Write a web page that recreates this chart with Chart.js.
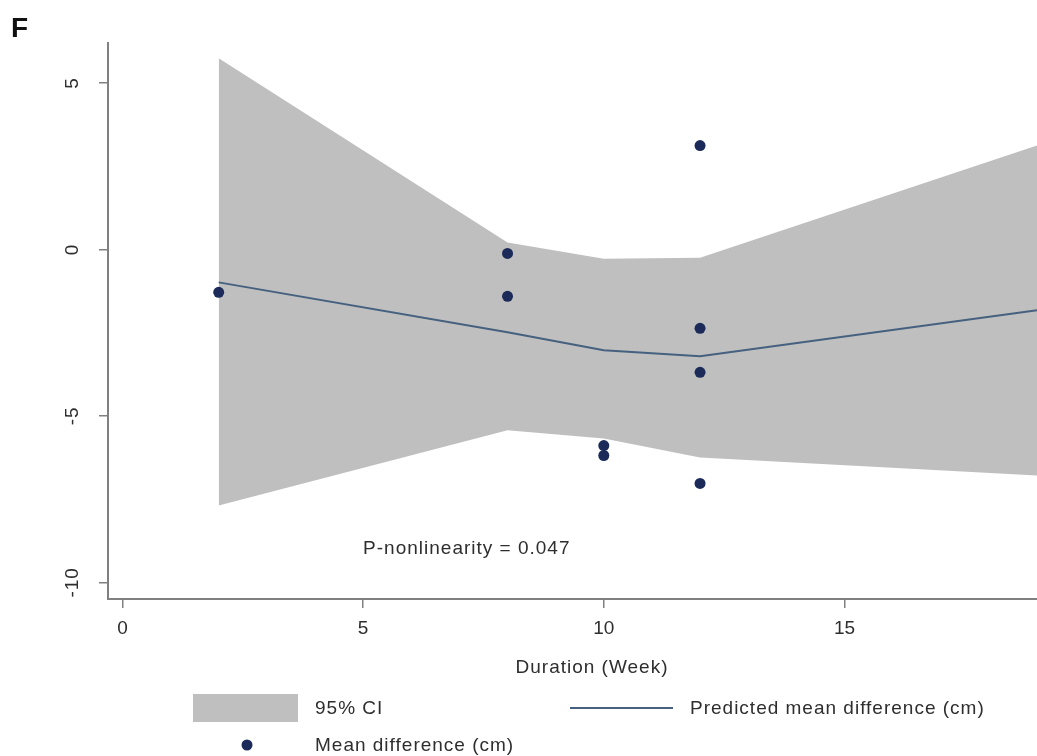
<!DOCTYPE html>
<html>
<head>
<meta charset="utf-8">
<script src="https://cdn.jsdelivr.net/npm/chart.js@4.4.1/dist/chart.umd.min.js"></script>
<style>
  html, body { margin: 0; padding: 0; background: #fff; }
  #kutu { width: 1037px; height: 756px; position: relative; }
</style>
</head>
<body>
<div id="kutu"><canvas id="grafik" width="1037" height="756"></canvas></div>
<script>
// Fitted curve and 95% CI at each duration
const fitX = [2, 8, 10, 12, 19];
const fitY = [-0.99, -2.49, -3.03, -3.21, -1.83];
const ciUst = [5.74, 0.21, -0.28, -0.25, 3.12];
const ciAlt = [-7.69, -5.43, -5.68, -6.25, -6.79];

// Study-level mean differences
const noktaX = [2, 8, 8, 10, 10, 12, 12, 12, 12];
const noktaY = [-1.29, -0.12, -1.41, -5.89, -6.19, 3.12, -2.37, -3.69, -7.03];

// Axis ticks
const xTicks = [0, 5, 10, 15];
const yTicks = [-10, -5, 0, 5];

const FONT = '"Liberation Sans", Arial, sans-serif';
const yaziRengi = '#2e2e2e';
const eksenRengi = '#808080';
const bantRengi = '#bfbfbf';
const cizgiRengi = '#45617f';
const noktaRengi = '#1b2a59';

const ciftle = (xs, ys) => xs.map((x, i) => ({ x: x, y: ys[i] }));

// Texts that are not drawn by Chart.js itself: y labels, titles, legend
const yaziEklentisi = {
    id: 'yazilar',
    afterDraw(chart) {
        const ctx = chart.ctx;
        const xs = chart.scales.x;
        const ys = chart.scales.y;
        ctx.save();
        ctx.fillStyle = yaziRengi;
        ctx.font = '19px ' + FONT;
        ctx.letterSpacing = '1px';

        // rotated y tick labels
        yTicks.forEach(v => {
            ctx.save();
            ctx.translate(73, ys.getPixelForValue(v));
            ctx.rotate(-Math.PI / 2);
            ctx.textAlign = 'center';
            ctx.textBaseline = 'middle';
            ctx.fillText(String(v), 0, 0);
            ctx.restore();
        });

        // annotation
        ctx.textAlign = 'left';
        ctx.textBaseline = 'middle';
        ctx.fillText('P-nonlinearity = 0.047', xs.getPixelForValue(5), ys.getPixelForValue(-9));

        // x axis title
        ctx.textAlign = 'center';
        ctx.fillText('Duration (Week)', 592, 668);

        // legend
        ctx.textAlign = 'left';
        ctx.fillStyle = bantRengi;
        ctx.fillRect(193, 694, 105, 28);
        ctx.fillStyle = yaziRengi;
        ctx.fillText('95% CI', 315, 709);

        ctx.strokeStyle = cizgiRengi;
        ctx.lineWidth = 2;
        ctx.beginPath();
        ctx.moveTo(570, 708);
        ctx.lineTo(673, 708);
        ctx.stroke();
        ctx.fillText('Predicted mean difference (cm)', 690, 709);

        ctx.fillStyle = noktaRengi;
        ctx.beginPath();
        ctx.arc(247, 745, 5.5, 0, Math.PI * 2);
        ctx.fill();
        ctx.fillStyle = yaziRengi;
        ctx.fillText('Mean difference (cm)', 315, 746);

        // panel letter
        ctx.letterSpacing = '0px';
        ctx.fillStyle = '#111';
        ctx.font = 'bold 28px ' + FONT;
        ctx.textBaseline = 'alphabetic';
        ctx.fillText('F', 11, 37);
        ctx.restore();
    }
};

const ctx = document.getElementById('grafik').getContext('2d');
new Chart(ctx, {
    type: 'line',
    data: {
        datasets: [
            {
                label: '95% CI',
                data: ciftle(fitX, ciUst),
                borderWidth: 0,
                pointRadius: 0,
                backgroundColor: bantRengi,
                fill: '+1',
                order: 3
            },
            {
                label: 'CI alt',
                data: ciftle(fitX, ciAlt),
                borderWidth: 0,
                pointRadius: 0,
                fill: false,
                order: 4
            },
            {
                label: 'Predicted mean difference (cm)',
                data: ciftle(fitX, fitY),
                borderColor: cizgiRengi,
                borderWidth: 2,
                pointRadius: 0,
                fill: false,
                tension: 0,
                order: 1
            },
            {
                type: 'scatter',
                label: 'Mean difference (cm)',
                data: ciftle(noktaX, noktaY),
                backgroundColor: noktaRengi,
                borderWidth: 0,
                pointRadius: 5.5,
                order: 0
            }
        ]
    },
    options: {
        responsive: false,
        animation: false,
        layout: { autoPadding: false, padding: { top: 43, left: 0, right: 0, bottom: 0 } },
        plugins: {
            legend: { display: false },
            tooltip: { enabled: false }
        },
        scales: {
            x: {
                type: 'linear',
                min: -0.3,
                max: 19,
                afterBuildTicks: s => { s.ticks = xTicks.map(v => ({ value: v })); },
                afterFit: s => { s.height = 157; s.paddingLeft = 0; s.paddingRight = 0; },
                grid: { drawOnChartArea: false, drawTicks: true, tickLength: 9, color: eksenRengi, lineWidth: 1.5 },
                border: { display: true, color: eksenRengi, width: 2 },
                ticks: { color: yaziRengi, padding: 9, font: { family: FONT, size: 19 }, maxRotation: 0 }
            },
            y: {
                type: 'linear',
                min: -10.5,
                max: 6.2,
                afterBuildTicks: s => { s.ticks = yTicks.map(v => ({ value: v })); },
                afterFit: s => { s.width = 108; s.paddingTop = 0; s.paddingBottom = 0; },
                grid: { drawOnChartArea: false, drawTicks: true, tickLength: 9, color: eksenRengi, lineWidth: 1.5 },
                border: { display: true, color: eksenRengi, width: 2 },
                ticks: { display: false }
            }
        }
    },
    plugins: [yaziEklentisi]
});
</script>
</body>
</html>
